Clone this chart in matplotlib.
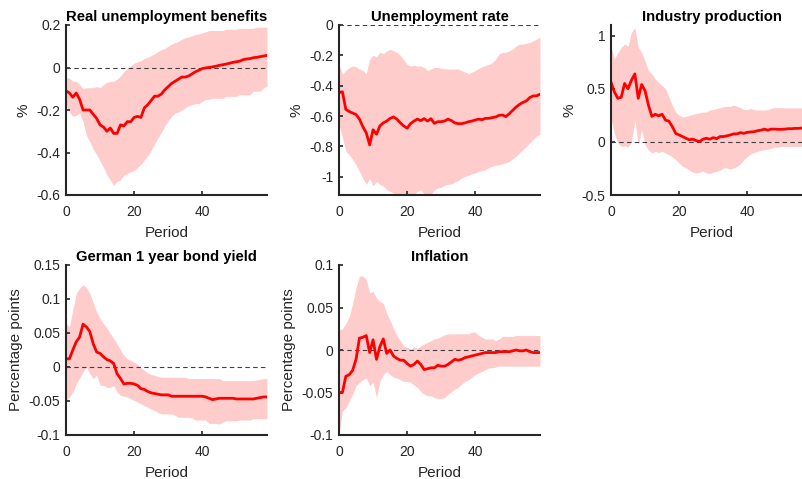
import matplotlib
matplotlib.use("Agg")
import matplotlib.pyplot as plt
import numpy as np

plt.rcParams['font.family'] = ['Liberation Sans', 'DejaVu Sans']

periods = np.arange(60)

# Real unemployment benefits
benefits_mid = [-0.11, -0.12, -0.14, -0.12, -0.15, -0.20, -0.20, -0.20, -0.22, -0.24,
                -0.27, -0.28, -0.30, -0.285, -0.31, -0.31, -0.27, -0.275, -0.255, -0.255,
                -0.235, -0.23, -0.235, -0.19, -0.175, -0.155, -0.135, -0.135, -0.125, -0.105,
                -0.09, -0.075, -0.065, -0.055, -0.045, -0.045, -0.04, -0.03, -0.02, -0.013,
                -0.005, -0.002, 0.0, 0.003, 0.006, 0.01, 0.013, 0.016, 0.02, 0.024,
                0.027, 0.03, 0.037, 0.04, 0.042, 0.046, 0.048, 0.051, 0.054, 0.057]
benefits_hi = [-0.048, -0.05, -0.065, -0.065, -0.08, -0.10, -0.095, -0.095, -0.095, -0.09,
               -0.095, -0.08, -0.07, -0.065, -0.065, -0.055, -0.04, -0.02, -0.005, 0.008,
               0.02, 0.027, 0.032, 0.043, 0.048, 0.056, 0.064, 0.075, 0.085, 0.09,
               0.10, 0.11, 0.117, 0.123, 0.133, 0.14, 0.144, 0.149, 0.155, 0.158,
               0.163, 0.168, 0.174, 0.174, 0.174, 0.174, 0.174, 0.18, 0.18, 0.18,
               0.18, 0.184, 0.184, 0.184, 0.184, 0.184, 0.19, 0.19, 0.19, 0.19]
benefits_lo = [-0.175, -0.21, -0.23, -0.225, -0.215, -0.255, -0.32, -0.35, -0.385, -0.41,
               -0.44, -0.47, -0.505, -0.53, -0.555, -0.535, -0.53, -0.505, -0.50, -0.49,
               -0.485, -0.47, -0.455, -0.435, -0.415, -0.39, -0.36, -0.33, -0.305, -0.275,
               -0.25, -0.23, -0.215, -0.21, -0.20, -0.19, -0.18, -0.175, -0.17, -0.17,
               -0.16, -0.15, -0.15, -0.145, -0.145, -0.145, -0.145, -0.136, -0.136, -0.136,
               -0.136, -0.128, -0.128, -0.128, -0.128, -0.112, -0.112, -0.112, -0.096, -0.088]

# Unemployment rate
unemp_mid = [-0.445, -0.44, -0.556, -0.57, -0.58, -0.59, -0.62, -0.67, -0.71, -0.79,
             -0.69, -0.72, -0.665, -0.645, -0.633, -0.615, -0.606, -0.62, -0.645, -0.665,
             -0.68, -0.65, -0.633, -0.62, -0.63, -0.617, -0.633, -0.617, -0.648, -0.637,
             -0.637, -0.633, -0.62, -0.63, -0.645, -0.65, -0.65, -0.645, -0.637, -0.633,
             -0.626, -0.62, -0.624, -0.615, -0.615, -0.61, -0.606, -0.595, -0.593, -0.604,
             -0.584, -0.562, -0.54, -0.523, -0.51, -0.50, -0.478, -0.467, -0.467, -0.456]
unemp_hi = [-0.26, -0.324, -0.30, -0.28, -0.27, -0.275, -0.29, -0.30, -0.32, -0.225,
            -0.20, -0.21, -0.18, -0.19, -0.17, -0.16, -0.17, -0.18, -0.20, -0.23,
            -0.26, -0.27, -0.265, -0.27, -0.27, -0.28, -0.30, -0.29, -0.28, -0.28,
            -0.285, -0.29, -0.29, -0.29, -0.29, -0.29, -0.30, -0.31, -0.32, -0.31,
            -0.30, -0.287, -0.275, -0.265, -0.26, -0.247, -0.225, -0.19, -0.18, -0.18,
            -0.17, -0.16, -0.137, -0.126, -0.126, -0.12, -0.115, -0.104, -0.093, -0.08]
unemp_lo = [-0.655, -0.74, -0.83, -0.855, -0.886, -0.92, -0.964, -1.01, -1.05, -1.01,
            -1.06, -1.03, -1.05, -1.06, -1.085, -1.096, -1.107, -1.118, -1.13, -1.118,
            -1.14, -1.13, -1.118, -1.096, -1.085, -1.118, -1.14, -1.118, -1.085, -1.074,
            -1.07, -1.056, -1.05, -1.047, -1.034, -1.025, -1.008, -0.997, -0.99, -0.98,
            -0.975, -0.964, -0.96, -0.953, -0.94, -0.93, -0.924, -0.92, -0.915, -0.908,
            -0.897, -0.88, -0.864, -0.842, -0.82, -0.80, -0.776, -0.754, -0.732, -0.72]

# Industry production
ip_mid = [0.56, 0.47, 0.41, 0.42, 0.55, 0.50, 0.58, 0.64, 0.41, 0.54,
          0.48, 0.345, 0.24, 0.26, 0.245, 0.26, 0.205, 0.195, 0.143, 0.08,
          0.065, 0.05, 0.034, 0.02, 0.025, 0.012, 0.003, 0.025, 0.034, 0.025,
          0.04, 0.03, 0.05, 0.05, 0.056, 0.065, 0.075, 0.075, 0.087, 0.08,
          0.09, 0.093, 0.096, 0.105, 0.11, 0.12, 0.11, 0.12, 0.12, 0.118,
          0.118, 0.12, 0.124, 0.124, 0.127, 0.127, 0.13, 0.13, 0.13, 0.13]
ip_hi = [0.89, 0.78, 0.84, 0.89, 0.92, 0.90, 1.03, 1.075, 0.89, 0.84,
         0.76, 0.67, 0.64, 0.59, 0.56, 0.53, 0.50, 0.42, 0.345, 0.28,
         0.25, 0.236, 0.24, 0.25, 0.258, 0.267, 0.273, 0.28, 0.28, 0.30,
         0.304, 0.314, 0.323, 0.33, 0.335, 0.335, 0.345, 0.335, 0.323, 0.304,
         0.304, 0.314, 0.304, 0.30, 0.30, 0.30, 0.304, 0.314, 0.323, 0.323,
         0.323, 0.32, 0.32, 0.32, 0.32, 0.32, 0.32, 0.314, 0.314, 0.314]
ip_lo = [0.22, 0.08, -0.012, -0.043, -0.037, -0.05, 0.003, 0.205, -0.028, 0.11,
         -0.028, -0.075, -0.105, -0.09, -0.10, -0.09, -0.105, -0.12, -0.143, -0.168,
         -0.20, -0.23, -0.245, -0.267, -0.286, -0.292, -0.286, -0.276, -0.292, -0.298,
         -0.286, -0.276, -0.267, -0.245, -0.245, -0.255, -0.245, -0.23, -0.205, -0.168,
         -0.137, -0.112, -0.10, -0.09, -0.08, -0.075, -0.068, -0.06, -0.05, -0.05,
         -0.043, -0.043, -0.043, -0.043, -0.043, -0.043, -0.043, -0.043, -0.043, -0.043]

# German 1 year bond yield
bond_mid = [0.012, 0.012, 0.025, 0.037, 0.044, 0.063, 0.059, 0.052, 0.034, 0.022,
            0.02, 0.015, 0.011, 0.009, 0.005, -0.01, -0.017, -0.025, -0.024, -0.024,
            -0.025, -0.027, -0.032, -0.033, -0.036, -0.038, -0.039, -0.04, -0.041, -0.041,
            -0.041, -0.043, -0.043, -0.043, -0.043, -0.043, -0.043, -0.043, -0.043, -0.043,
            -0.043, -0.044, -0.046, -0.048, -0.047, -0.046, -0.046, -0.046, -0.046, -0.046,
            -0.047, -0.047, -0.047, -0.047, -0.047, -0.047, -0.046, -0.045, -0.044, -0.044]
bond_hi = [0.064, 0.059, 0.084, 0.108, 0.116, 0.121, 0.117, 0.108, 0.094, 0.081,
           0.071, 0.064, 0.057, 0.049, 0.042, 0.034, 0.025, 0.017, 0.012, 0.01,
           0.007, 0.004, -0.001, -0.005, -0.009, -0.011, -0.012, -0.014, -0.015, -0.015,
           -0.015, -0.015, -0.015, -0.015, -0.015, -0.015, -0.017, -0.017, -0.017, -0.017,
           -0.017, -0.017, -0.017, -0.017, -0.017, -0.017, -0.02, -0.02, -0.02, -0.02,
           -0.02, -0.02, -0.02, -0.02, -0.02, -0.02, -0.019, -0.018, -0.017, -0.017]
bond_lo = [-0.049, -0.044, -0.037, -0.025, -0.016, -0.007, 0.0, -0.01, -0.017, -0.012,
           -0.027, -0.027, -0.03, -0.03, -0.027, -0.037, -0.042, -0.043, -0.044, -0.047,
           -0.049, -0.052, -0.054, -0.057, -0.059, -0.062, -0.064, -0.067, -0.069, -0.069,
           -0.069, -0.069, -0.071, -0.074, -0.074, -0.074, -0.074, -0.075, -0.078, -0.078,
           -0.078, -0.078, -0.083, -0.083, -0.083, -0.084, -0.081, -0.079, -0.079, -0.079,
           -0.079, -0.078, -0.078, -0.078, -0.078, -0.076, -0.076, -0.076, -0.076, -0.076]

# Inflation
infl_mid = [-0.05, -0.05, -0.031, -0.029, -0.024, -0.011, 0.014, 0.015, 0.017, -0.003,
            0.012, -0.011, 0.004, 0.013, -0.004, 0.0, -0.007, -0.01, -0.012, -0.012,
            -0.016, -0.019, -0.017, -0.013, -0.017, -0.023, -0.022, -0.021, -0.021, -0.018,
            -0.019, -0.019, -0.017, -0.014, -0.011, -0.012, -0.011, -0.009, -0.008, -0.007,
            -0.006, -0.005, -0.004, -0.003, -0.003, -0.003, -0.003, -0.002, -0.002, -0.002,
            -0.002, -0.001, 0.0, -0.001, -0.001, 0.0, -0.002, -0.003, -0.003, -0.003]
infl_hi = [0.023, 0.025, 0.031, 0.039, 0.055, 0.073, 0.087, 0.087, 0.083, 0.067,
           0.069, 0.061, 0.057, 0.055, 0.043, 0.035, 0.025, 0.017, 0.011, 0.005,
           0.003, 0.001, 0.004, 0.002, 0.005, 0.007, 0.009, 0.011, 0.013, 0.014,
           0.016, 0.018, 0.019, 0.019, 0.019, 0.019, 0.019, 0.019, 0.019, 0.021,
           0.021, 0.017, 0.015, 0.013, 0.013, 0.013, 0.011, 0.013, 0.016, 0.016,
           0.016, 0.016, 0.017, 0.017, 0.017, 0.017, 0.017, 0.017, 0.017, 0.017]
infl_lo = [-0.1, -0.072, -0.068, -0.06, -0.052, -0.042, -0.038, -0.035, -0.033, -0.042,
           -0.038, -0.056, -0.037, -0.029, -0.025, -0.029, -0.032, -0.033, -0.035, -0.037,
           -0.037, -0.038, -0.041, -0.044, -0.049, -0.052, -0.054, -0.054, -0.056, -0.057,
           -0.057, -0.056, -0.052, -0.049, -0.046, -0.044, -0.04, -0.037, -0.035, -0.032,
           -0.029, -0.027, -0.025, -0.023, -0.021, -0.021, -0.02, -0.019, -0.019, -0.019,
           -0.019, -0.019, -0.019, -0.019, -0.019, -0.019, -0.019, -0.019, -0.019, -0.019]

titles = ["Real unemployment benefits", "Unemployment rate", "Industry production",
          "German 1 year bond yield", "Inflation"]
ylabels = ["%", "%", "%", "Percentage points", "Percentage points"]
ylims = [(-0.6, 0.2), (-1.12, 0.0), (-0.5, 1.1), (-0.1, 0.15), (-0.1, 0.1)]
yticks = [[-0.6, -0.4, -0.2, 0, 0.2],
          [-1, -0.8, -0.6, -0.4, -0.2, 0],
          [-0.5, 0, 0.5, 1],
          [-0.1, -0.05, 0, 0.05, 0.1, 0.15],
          [-0.1, -0.05, 0, 0.05, 0.1]]
yticklabels = [["-0.6", "-0.4", "-0.2", "0", "0.2"],
               ["-1", "-0.8", "-0.6", "-0.4", "-0.2", "0"],
               ["-0.5", "0", "0.5", "1"],
               ["-0.1", "-0.05", "0", "0.05", "0.1", "0.15"],
               ["-0.1", "-0.05", "0", "0.05", "0.1"]]
xticks = [0, 20, 40]

series = [(benefits_mid, benefits_lo, benefits_hi),
          (unemp_mid, unemp_lo, unemp_hi),
          (ip_mid, ip_lo, ip_hi),
          (bond_mid, bond_lo, bond_hi),
          (infl_mid, infl_lo, infl_hi)]

W, H = 803, 479
# axes boxes in pixels: left, top, right, bottom
boxes = [(66, 25, 267, 195), (339, 25, 540, 195), (611, 25, 812, 195),
         (66, 265, 267, 435), (339, 265, 540, 435)]

fig = plt.figure(figsize=(W / 100, H / 100), dpi=100)
dark = (0.15, 0.15, 0.15)

for i, (mid, lo, hi) in enumerate(series):
    l, t, r, b = boxes[i]
    ax = fig.add_axes([l / W, 1 - b / H, (r - l) / W, (b - t) / H])
    ax.fill_between(periods, lo, hi, color='#ffcccc', linewidth=0)
    ax.axhline(0, color='#404040', lw=0.8, dashes=(4, 3))
    ax.plot(periods, mid, color='red', lw=2)
    ax.set_xlim(0, 59)
    ax.set_ylim(*ylims[i])
    ax.set_xticks(xticks)
    ax.set_xticklabels([str(x) for x in xticks])
    ax.set_yticks(yticks[i])
    ax.set_yticklabels(yticklabels[i])
    ax.spines['top'].set_visible(False)
    ax.spines['right'].set_visible(False)
    for s in ['left', 'bottom']:
        ax.spines[s].set_color(dark)
        ax.spines[s].set_linewidth(1.5)
    ax.tick_params(direction='in', length=3, width=1.2, color=dark,
                   labelcolor=dark, labelsize=10)
    ax.tick_params(axis='x', pad=7)
    ax.tick_params(axis='y', pad=4)
    ax.set_title(titles[i], fontsize=10.7, fontweight='bold', pad=3)
    ax.set_xlabel("Period", fontsize=11, color=dark, labelpad=5)
    ax.set_ylabel(ylabels[i], fontsize=11, color=dark, labelpad=4)

fig.savefig("out.png", dpi=100)
